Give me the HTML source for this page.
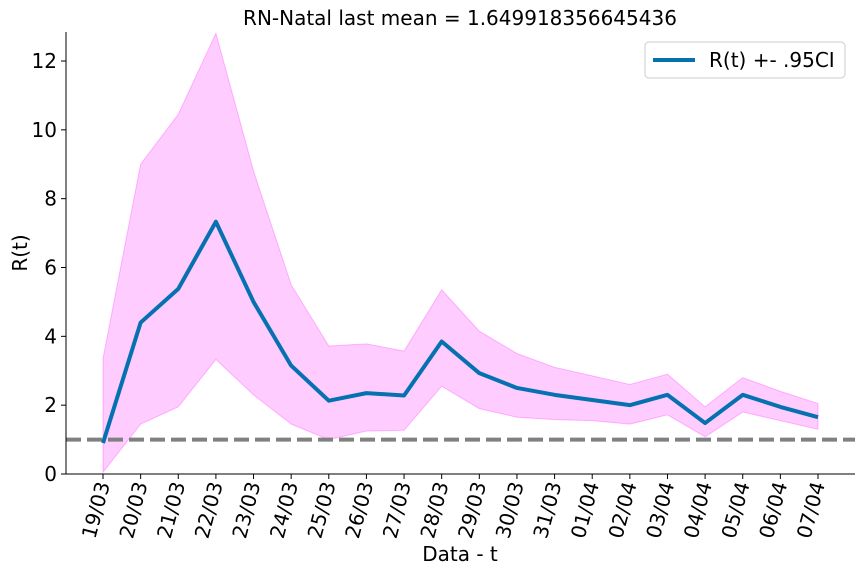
<!DOCTYPE html>
<html><head><meta charset="utf-8"><style>
html,body{margin:0;padding:0;background:#fff;}
svg{display:block;font-family:"DejaVu Sans","Liberation Sans",sans-serif;}
</style></head><body>
<svg id="chart" width="864" height="576" viewBox="0 0 864 576">
<text x="460" y="25" text-anchor="middle" font-size="20" fill="#000">RN-Natal last mean = 1.649918356645436</text>
<g id="plot"></g>
<text x="460" y="561" text-anchor="middle" font-size="20">Data - t</text>
<text transform="translate(27,253) rotate(-90)" text-anchor="middle" font-size="20">R(t)</text>
<g>
<rect x="645" y="42" width="200" height="36" rx="4" fill="#fff" stroke="#ccc"/>
<line x1="653" y1="60" x2="695" y2="60" stroke="#0571b0" stroke-width="4"/>
<text x="709" y="67" font-size="20">R(t) +- .95CI</text>
</g>
</svg>
<script>
const dates=["19/03","20/03","21/03","22/03","23/03","24/03","25/03","26/03","27/03","28/03","29/03","30/03","31/03","01/04","02/04","03/04","04/04","05/04","06/04","07/04"];
const meanR=[0.9,4.4,5.38,7.33,5.0,3.15,2.13,2.35,2.28,3.85,2.93,2.5,2.3,2.15,2.0,2.3,1.48,2.3,1.95,1.65];
const upperR=[3.35,9.0,10.45,12.8,8.8,5.5,3.72,3.78,3.57,5.35,4.15,3.5,3.1,2.85,2.6,2.9,1.95,2.8,2.4,2.05];
const lowerR=[0.05,1.45,1.95,3.33,2.3,1.45,1.0,1.25,1.27,2.55,1.9,1.65,1.58,1.55,1.45,1.72,1.08,1.8,1.55,1.3];
const yTicks=[0,2,4,6,8,10,12];
const refLine=1;
const NS="http://www.w3.org/2000/svg";
const g=document.getElementById('plot');
const L=66,R=855,T=32,B=474;
const x=i=>103+i*(818-103)/(dates.length-1);
const y=v=>B-v*(B-61)/12;
function mk(t,a,p){const e=document.createElementNS(NS,t);for(const k in a)e.setAttribute(k,a[k]);(p||g).appendChild(e);return e;}
let d="M"+dates.map((_,i)=>x(i)+","+y(upperR[i])).join("L");
for(let i=dates.length-1;i>=0;i--)d+="L"+x(i)+","+y(lowerR[i]);
const band=mk('path',{d:d+"Z",fill:"#ff00ff","fill-opacity":"0.2",stroke:"#ff00ff","stroke-opacity":"0.25","stroke-width":"1"});


const ref=mk('line',{x1:L,x2:R,y1:y(refLine),y2:y(refLine),stroke:"#808080","stroke-width":"4","stroke-dasharray":"15 6"});


const ln=mk('polyline',{points:dates.map((_,i)=>x(i)+","+y(meanR[i])).join(" "),fill:"none",stroke:"#0571b0","stroke-width":"4","stroke-linejoin":"round"});


const sl=mk('line',{x1:L,x2:L,y1:T,y2:B,stroke:"#000","stroke-width":"1"});


const sb=mk('line',{x1:L,x2:R,y1:B,y2:B,stroke:"#000","stroke-width":"1"});


yTicks.forEach(v=>{
 mk('line',{x1:L-5,x2:L,y1:y(v),y2:y(v),stroke:"#000"});
 const t=mk('text',{x:L-9,y:y(v)+7,"text-anchor":"end","font-size":"20"});
 t.textContent=v;
 
 
});
dates.forEach((s,i)=>{
 mk('line',{x1:x(i),x2:x(i),y1:B,y2:B+5,stroke:"#000"});
 const t=mk('text',{transform:`translate(${x(i)+7},${B+10}) rotate(-75)`,"text-anchor":"end","font-size":"20"});
 t.textContent=s;
 
 
});
</script>
</body></html>
